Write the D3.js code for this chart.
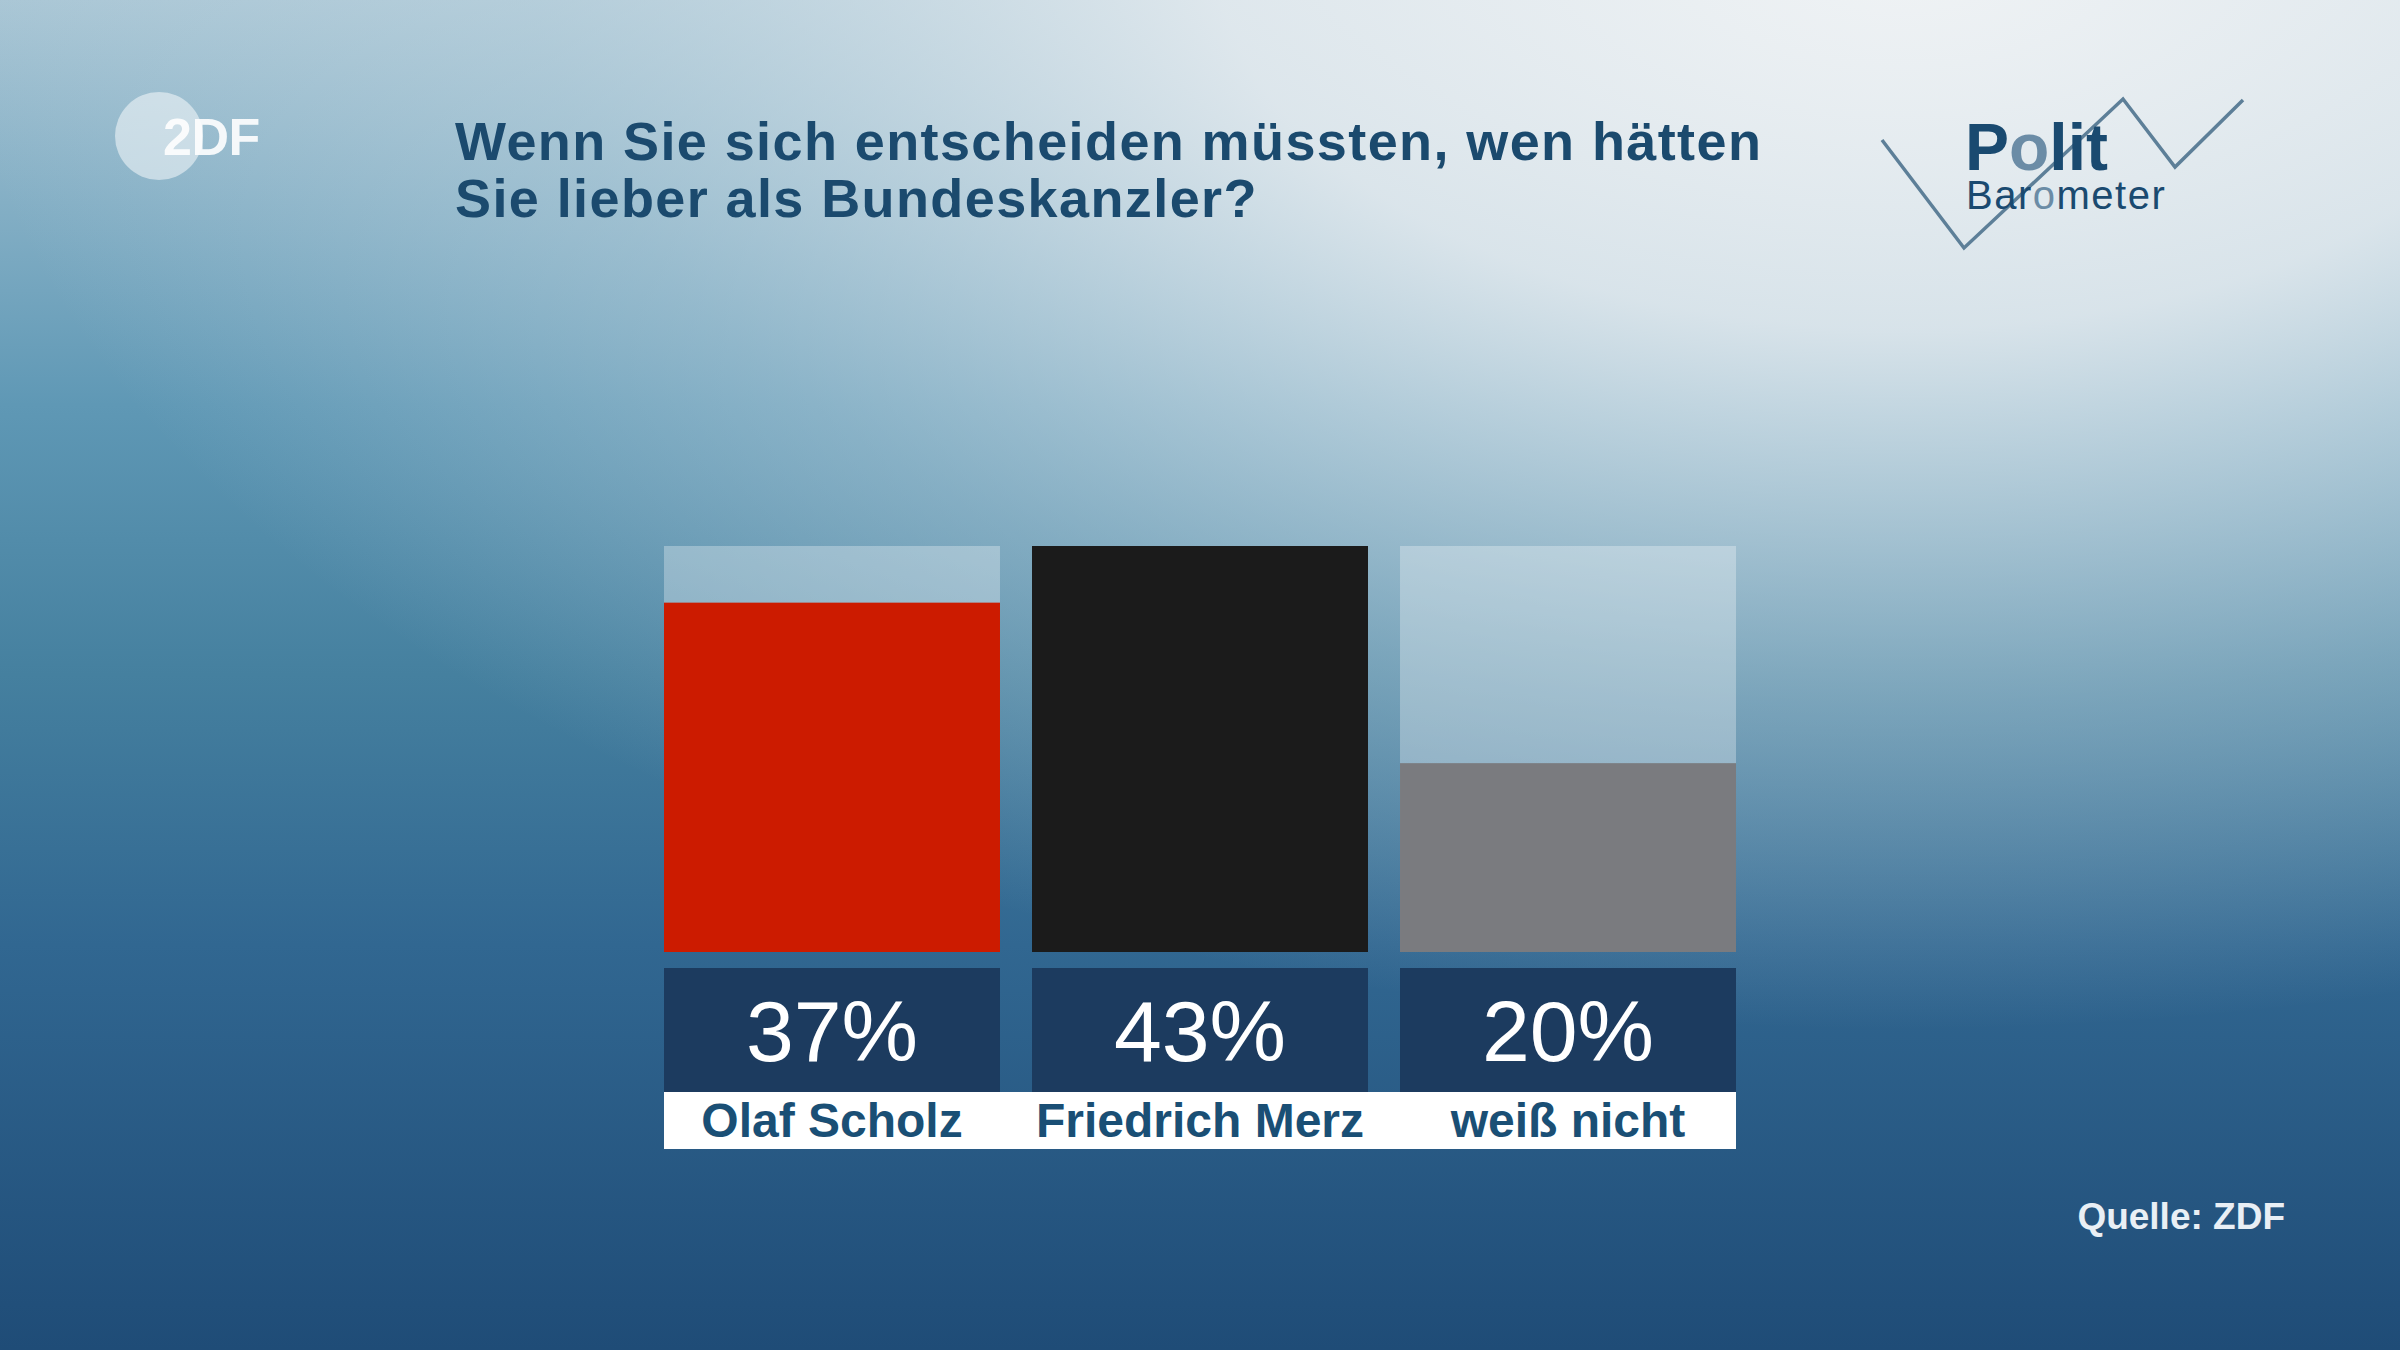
<!DOCTYPE html>
<html><head><meta charset="utf-8">
<script src="https://cdn.jsdelivr.net/npm/d3@7"></script>
<style>html,body{margin:0;padding:0;overflow:hidden;background:#2a5a82}</style>
</head><body>
<svg id="chart" width="2400" height="1350"></svg>
<script>
const categories = ["Olaf Scholz", "Friedrich Merz", "weiß nicht"];
const values = [37, 43, 20];
const valueLabels = ["37%", "43%", "20%"];
const barColors = ["#cc1b00", "#1b1b1b", "#7a7b7f"];
const titleLines = ["Wenn Sie sich entscheiden müssten, wen hätten", "Sie lieber als Bundeskanzler?"];
const source = "Quelle: ZDF";

const W = 2400, H = 1350;
const svg = d3.select("#chart");
const defs = svg.append("defs");

// background
const lg = defs.append("linearGradient").attr("id","bg").attr("x1",0).attr("y1",0).attr("x2",0).attr("y2",1);
[[0,"#a9c6d5"],[0.3,"#5f98b5"],[0.5,"#45809f"],[0.7,"#316791"],[1,"#1f4c77"]].forEach(s=>lg.append("stop").attr("offset",s[0]).attr("stop-color",s[1]));
svg.append("rect").attr("width",W).attr("height",H).attr("fill","url(#bg)");
const rg = defs.append("radialGradient").attr("id","glow").attr("gradientUnits","userSpaceOnUse")
  .attr("cx",1900).attr("cy",-50).attr("r",1500).attr("gradientTransform","translate(1900,-50) scale(1.3,0.72) translate(-1900,50)");
[[0,"#f0f3f5",1],[0.35,"#e6ecf0",0.88],[0.7,"#c5d8e2",0.42],[1,"#c5d8e2",0]].forEach(s=>rg.append("stop").attr("offset",s[0]).attr("stop-color",s[1]).attr("stop-opacity",s[2]));
svg.append("rect").attr("width",W).attr("height",H).attr("fill","url(#glow)");

// ZDF logo
svg.append("circle").attr("cx",159).attr("cy",136).attr("r",44).attr("fill","#ffffff").attr("opacity",0.5);
svg.append("text").attr("x",163).attr("y",155).attr("font-family","Liberation Sans, Arial, sans-serif")
  .attr("font-weight",700).attr("font-size",52).attr("fill","#ffffff").attr("opacity",0.9).attr("letter-spacing",-0.5).text("2DF");

// title
svg.append("g").selectAll("text").data(titleLines).join("text")
  .attr("x",455).attr("y",(d,i)=>160+i*57)
  .attr("font-family","Liberation Sans, Arial, sans-serif").attr("font-weight",700)
  .attr("font-size",54).attr("letter-spacing",1.4).attr("fill","#1b4a6e").text(d=>d);

// Politbarometer logo
const zig = [[1882,140],[1964,248],[2123,99],[2175,167],[2243,100]];
svg.append("path").attr("d",d3.line()(zig)).attr("fill","none").attr("stroke","#5d7f98").attr("stroke-width",3.5);
const logo = svg.append("text").attr("font-family","Liberation Sans, Arial, sans-serif").attr("fill","#1a4a70");
logo.append("tspan").attr("x",1965).attr("y",170).attr("font-weight",700).attr("font-size",66).text("P");
logo.append("tspan").attr("font-weight",700).attr("font-size",66).attr("fill","#6b8ca6").text("o");
logo.append("tspan").attr("font-weight",700).attr("font-size",66).text("lit");
logo.append("tspan").attr("x",1966).attr("y",209).attr("font-size",40).attr("letter-spacing",1.5).text("Bar");
logo.append("tspan").attr("font-size",40).attr("letter-spacing",1.5).attr("fill","#6b8ca6").text("o");
logo.append("tspan").attr("font-size",40).attr("letter-spacing",1.5).text("meter");

// scales
const x = d3.scaleBand().domain(categories).range([664,1736]).paddingInner(0.087).paddingOuter(0);
const y = d3.scaleLinear().domain([0, d3.max(values)]).range([952, 546]);

const g = svg.append("g");
// background panels
g.selectAll("rect.bgp").data(categories).join("rect").attr("class","bgp")
  .attr("x",d=>x(d)).attr("y",y(d3.max(values))).attr("width",x.bandwidth()).attr("height",y(0)-y(d3.max(values)))
  .attr("fill","#ffffff").attr("opacity",0.3);
// bars
g.selectAll("rect.bar").data(values).join("rect").attr("class","bar")
  .attr("x",(d,i)=>x(categories[i])).attr("y",d=>y(d)).attr("width",x.bandwidth()).attr("height",d=>y(0)-y(d))
  .attr("fill",(d,i)=>barColors[i]);
// value boxes
g.selectAll("rect.vbox").data(categories).join("rect").attr("class","vbox")
  .attr("x",d=>x(d)).attr("y",968).attr("width",x.bandwidth()).attr("height",124).attr("fill","#1c3b5f");
g.selectAll("text.val").data(valueLabels).join("text").attr("class","val")
  .attr("x",(d,i)=>x(categories[i])+x.bandwidth()/2).attr("y",1061).attr("text-anchor","middle")
  .attr("font-family","Liberation Sans, Arial, sans-serif").attr("font-size",86).attr("fill","#ffffff").text(d=>d);
// label strip
g.append("rect").attr("x",x.range()[0]).attr("y",1092).attr("width",x.range()[1]-x.range()[0]).attr("height",57).attr("fill","#ffffff");
g.selectAll("text.cat").data(categories).join("text").attr("class","cat")
  .attr("x",d=>x(d)+x.bandwidth()/2).attr("y",1137).attr("text-anchor","middle")
  .attr("font-family","Liberation Sans, Arial, sans-serif").attr("font-weight",700).attr("font-size",48)
  .attr("fill","#1a4f75").text(d=>d);

// source
svg.append("text").attr("x",2285).attr("y",1229).attr("text-anchor","end")
  .attr("font-family","Liberation Sans, Arial, sans-serif").attr("font-weight",700).attr("font-size",37)
  .attr("fill","#e9eff5").text(source);
</script>
</body></html>
